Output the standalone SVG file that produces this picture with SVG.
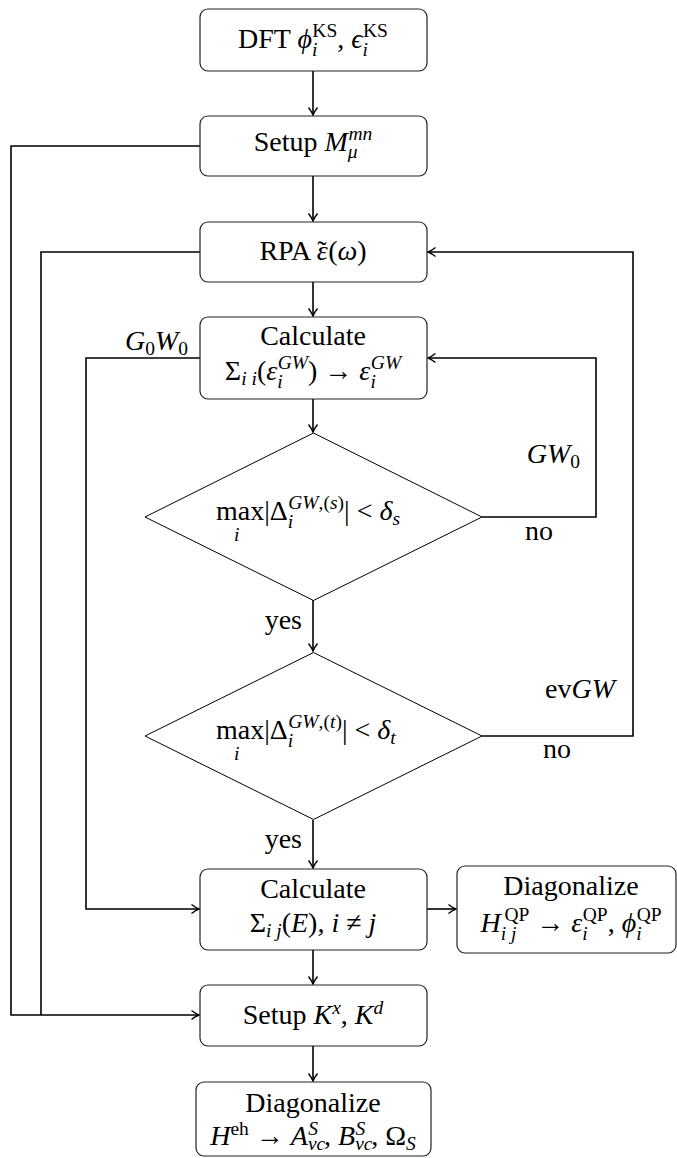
<svg xmlns="http://www.w3.org/2000/svg" width="677" height="1158" viewBox="0 0 677 1158">
<style>
text{font-family:"Liberation Serif","DejaVu Serif",serif;font-size:28px;fill:#000}
.m{text-anchor:middle}
.e{text-anchor:end}
.it{font-style:italic}
.sc{font-size:19.5px}
.box{fill:#fff;stroke:#222;stroke-width:1.2}
.dia{fill:#fff;stroke:#000;stroke-width:1}
.con{fill:none;stroke:#000;stroke-width:1.6}
</style>
<defs>
<marker id="arr" markerUnits="userSpaceOnUse" viewBox="-9 -6 11 12" refX="0" refY="0" markerWidth="11" markerHeight="12" orient="auto">
<path d="M-7.5,-4.5 C-4,-1.8 -1.5,-0.5 0,0 C-1.5,0.5 -4,1.8 -7.5,4.5" fill="none" stroke="#000" stroke-width="1.4"/>
</marker>
</defs>
<g id="connectors">
<path class="con" d="M313,71 V115" marker-end="url(#arr)"/>
<path class="con" d="M313,176 V221" marker-end="url(#arr)"/>
<path class="con" d="M313,282 V316" marker-end="url(#arr)"/>
<path class="con" d="M313,399 V432" marker-end="url(#arr)"/>
<path class="con" d="M313,600 V651" marker-end="url(#arr)"/>
<path class="con" d="M313,820 V868" marker-end="url(#arr)"/>
<path class="con" d="M427,909 H456" marker-end="url(#arr)"/>
<path class="con" d="M313,950 V984" marker-end="url(#arr)"/>
<path class="con" d="M313,1046 V1081" marker-end="url(#arr)"/>
<path class="con" d="M482,517 H596 V358 H428" marker-end="url(#arr)"/>
<path class="con" d="M482,736 H633 V252 H428" marker-end="url(#arr)"/>
<path class="con" d="M200,358 H86 V909 H199" marker-end="url(#arr)"/>
<path class="con" d="M200,146 H11 V1015 H199" marker-end="url(#arr)"/>
<path class="con" d="M200,252 H41 V1015"/>
</g>
<g id="labels">
<text class="e" x="188" y="350"><tspan class="it">G</tspan><tspan class="sc" dy="5">0</tspan><tspan class="it" dy="-5">W</tspan><tspan class="sc" dy="5">0</tspan></text>
<text class="e" x="580" y="463"><tspan class="it">GW</tspan><tspan class="sc" dy="5">0</tspan></text>
<text x="525" y="540">no</text>
<text class="e" x="302" y="629">yes</text>
<text class="e" x="615" y="698">ev<tspan class="it">GW</tspan></text>
<text x="543" y="758">no</text>
<text class="e" x="302" y="848">yes</text>
</g>
<g id="n-dft">
<rect class="box" x="200" y="9" width="227" height="62" rx="8"/>
<text class="m" x="313" y="48">DFT <tspan class="it">ϕ</tspan><tspan class="sc it" dy="8">i</tspan><tspan class="sc" dx="-5" dy="-19">KS</tspan><tspan dy="11">, </tspan><tspan class="it">ϵ</tspan><tspan class="sc it" dy="8">i</tspan><tspan class="sc" dx="-5" dy="-19">KS</tspan></text>
</g>
<g id="n-setupM">
<rect class="box" x="200" y="116" width="227" height="60" rx="8"/>
<text class="m" x="313" y="151">Setup <tspan class="it">M</tspan><tspan class="sc it" dy="7">μ</tspan><tspan class="sc it" dx="-9" dy="-18">mn</tspan></text>
</g>
<g id="n-rpa">
<rect class="box" x="200" y="222" width="227" height="60" rx="8"/>
<text class="m" x="313" y="260">RPA <tspan class="it">ε</tspan><tspan dx="-10.5">˜</tspan><tspan dx="1.5">(</tspan><tspan class="it">ω</tspan>)</text>
</g>
<g id="n-calc1">
<rect class="box" x="200" y="317" width="227" height="82" rx="8"/>
<text class="m" x="313" y="345">Calculate</text>
<text class="m" x="313" y="380">Σ<tspan class="sc it" dy="5">i i</tspan><tspan dy="-5">(</tspan><tspan class="it">ε</tspan><tspan class="sc it" dy="8">i</tspan><tspan class="sc it" dx="-5" dy="-19">GW</tspan><tspan dy="11">) → </tspan><tspan class="it">ε</tspan><tspan class="sc it" dy="8">i</tspan><tspan class="sc it" dx="-5" dy="-19">GW</tspan></text>
</g>
<g id="n-dia1">
<polygon class="dia" points="313.5,433 482,517 313.5,600.5 145,517"/>
<text x="216" y="520">max|Δ<tspan class="sc it" dy="8">i</tspan><tspan class="sc" dx="-5" dy="-19"><tspan class="it">GW</tspan>,(<tspan class="it">s</tspan>)</tspan><tspan dy="11">| &lt; </tspan><tspan class="it">δ</tspan><tspan class="sc it" dy="5">s</tspan></text>
<text class="sc it" x="234" y="541">i</text>
</g>
<g id="n-dia2">
<polygon class="dia" points="313.5,652.5 482,736 313.5,819.5 145,736"/>
<text x="216" y="739">max|Δ<tspan class="sc it" dy="8">i</tspan><tspan class="sc" dx="-5" dy="-19"><tspan class="it">GW</tspan>,(<tspan class="it">t</tspan>)</tspan><tspan dy="11">| &lt; </tspan><tspan class="it">δ</tspan><tspan class="sc it" dy="5">t</tspan></text>
<text class="sc it" x="234" y="760">i</text>
</g>
<g id="n-calc2">
<rect class="box" x="200" y="869" width="227" height="81" rx="8"/>
<text class="m" x="313" y="898">Calculate</text>
<text class="m" x="313" y="932">Σ<tspan class="sc it" dy="5">i j</tspan><tspan dy="-5">(</tspan><tspan class="it">E</tspan>), <tspan class="it">i</tspan> ≠ <tspan class="it">j</tspan></text>
</g>
<g id="n-diagQP">
<rect class="box" x="457" y="866" width="219" height="87" rx="8"/>
<text class="m" x="571" y="895">Diagonalize</text>
<text class="m" x="571" y="932"><tspan class="it">H</tspan><tspan class="sc it" dy="8">i j</tspan><tspan class="sc" dx="-12" dy="-19">QP</tspan><tspan dy="11"> → </tspan><tspan class="it">ε</tspan><tspan class="sc it" dy="8">i</tspan><tspan class="sc" dx="-5" dy="-19">QP</tspan><tspan dy="11">, </tspan><tspan class="it">ϕ</tspan><tspan class="sc it" dy="8">i</tspan><tspan class="sc" dx="-5" dy="-19">QP</tspan></text>
</g>
<g id="n-setupK">
<rect class="box" x="200" y="985" width="227" height="61" rx="8"/>
<text class="m" x="313" y="1024">Setup <tspan class="it">K</tspan><tspan class="sc it" dy="-10">x</tspan><tspan dy="10">, </tspan><tspan class="it">K</tspan><tspan class="sc it" dy="-10">d</tspan></text>
</g>
<g id="n-diagBSE">
<rect class="box" x="196" y="1082" width="235" height="74" rx="8"/>
<text class="m" x="313" y="1112">Diagonalize</text>
<text class="m" x="313" y="1145"><tspan class="it">H</tspan><tspan class="sc" dy="-10">eh</tspan><tspan dy="10"> → </tspan><tspan class="it">A</tspan><tspan class="sc it" dy="5">vc</tspan><tspan class="sc it" dx="-17" dy="-15">S</tspan><tspan dx="6" dy="10">, </tspan><tspan class="it">B</tspan><tspan class="sc it" dy="5">vc</tspan><tspan class="sc it" dx="-17" dy="-15">S</tspan><tspan dx="6" dy="10">, Ω</tspan><tspan class="sc it" dy="5">S</tspan></text>
</g>
</svg>
